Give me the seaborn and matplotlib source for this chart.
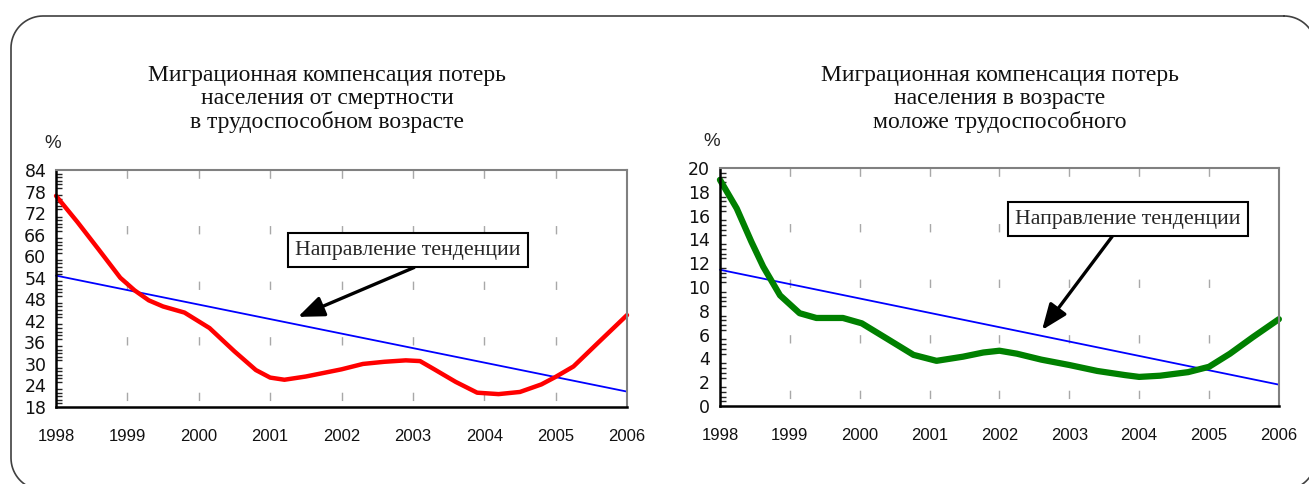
import numpy as np
import pandas as pd
import matplotlib
matplotlib.use("Agg")
import matplotlib.pyplot as plt
import seaborn as sns
from matplotlib.ticker import MultipleLocator
from matplotlib.lines import Line2D

sns.set_style("white")
plt.rcParams['font.family'] = ['Liberation Sans', 'DejaVu Sans']

years = list(range(1998, 2007))

# left chart: working age mortality losses
red_x = [1998.0, 1998.3, 1998.6, 1998.9, 1999.1, 1999.3, 1999.5, 1999.8, 2000.15,
         2000.5, 2000.8, 2001.0, 2001.2, 2001.5, 2002.0, 2002.3, 2002.6, 2002.9,
         2003.1, 2003.3, 2003.6, 2003.9, 2004.2, 2004.5, 2004.8, 2005.0, 2005.25,
         2005.6, 2006.0]
red_y = [76.8, 69.5, 61.8, 54.0, 50.5, 47.7, 46.0, 44.3, 40.0,
         33.5, 28.3, 26.2, 25.6, 26.5, 28.5, 30.0, 30.6, 31.0,
         30.8, 28.5, 25.0, 22.0, 21.6, 22.2, 24.3, 26.4, 29.3,
         36.0, 43.6]
trend_x = [1998, 2006]
trend_left = [54.6, 22.3]

# right chart: below working age
green_x = [1998.0, 1998.24, 1998.45, 1998.62, 1998.86, 1999.14, 1999.38, 1999.76,
           2000.03, 2000.38, 2000.77, 2001.1, 2001.48, 2001.77, 2002.0, 2002.25,
           2002.6, 2003.0, 2003.4, 2003.8, 2004.0, 2004.3, 2004.7, 2005.0, 2005.3,
           2005.63, 2006.0]
green_y = [19.0, 16.6, 13.8, 11.7, 9.3, 7.8, 7.4, 7.4,
           6.95, 5.7, 4.3, 3.8, 4.15, 4.5, 4.65, 4.4,
           3.9, 3.45, 2.95, 2.6, 2.45, 2.55, 2.85, 3.3, 4.4,
           5.8, 7.3]
trend_right = [11.45, 1.8]

title_left = "Миграционная компенсация потерь\nнаселения от смертности\nв трудоспособном возрасте"
title_right = "Миграционная компенсация потерь\nнаселения в возрасте\nмоложе трудоспособного"
note = "Направление тенденции"

df_red = pd.DataFrame({"year": red_x, "val": red_y})
df_green = pd.DataFrame({"year": green_x, "val": green_y})
df_tl = pd.DataFrame({"year": trend_x, "val": trend_left})
df_tr = pd.DataFrame({"year": trend_x, "val": trend_right})

W, H = 1309, 484
fig = plt.figure(figsize=(W / 100, H / 100), dpi=100)
ax1 = fig.add_axes([0.0428, 0.159, 0.4362, 0.4898])
ax2 = fig.add_axes([0.550, 0.161, 0.427, 0.492])


def style_axes(ax, ymin, ymax, ystep, minor):
    ax.set_xlim(1998, 2006)
    ax.set_ylim(ymin, ymax)
    ax.set_xticks(years)
    ax.set_yticks(np.arange(ymin, ymax + 0.1, ystep))
    ax.yaxis.set_minor_locator(MultipleLocator(minor))
    ax.tick_params(axis='both', which='major', direction='inout', length=10,
                   width=1.5, color='black', labelsize=12, labelcolor='#111111')
    ax.tick_params(axis='x', pad=11)
    ax.tick_params(axis='y', pad=2)
    ax.tick_params(axis='y', which='minor', direction='in', length=4, width=1,
                   left=True)
    for lab in ax.get_yticklabels():
        lab.set_family('DejaVu Sans')
        lab.set_fontsize(12.5)
    for s in ['left', 'bottom']:
        ax.spines[s].set_color('black')
        ax.spines[s].set_linewidth(1.8)
    for s in ['top', 'right']:
        ax.spines[s].set_color('#808080')
        ax.spines[s].set_linewidth(1.5)
    ax.vlines(years[1:-1], ymax, ymin, colors='#a8a8a8', linewidth=1,
              linestyles=(0, (6, 34)), zorder=0)
    ax.set_xlabel("")
    ax.set_ylabel("")


sns.lineplot(data=df_tl, x="year", y="val", ax=ax1, color='#0000ff', lw=1.3,
             estimator=None)
sns.lineplot(data=df_red, x="year", y="val", ax=ax1, color='#ff0000', lw=3.2,
             estimator=None, solid_joinstyle='round', solid_capstyle='round')
style_axes(ax1, 18, 84, 6, 1)

sns.lineplot(data=df_tr, x="year", y="val", ax=ax2, color='#0000ff', lw=1.3,
             estimator=None)
sns.lineplot(data=df_green, x="year", y="val", ax=ax2, color='#008000', lw=4.5,
             estimator=None, solid_joinstyle='round', solid_capstyle='round')
style_axes(ax2, 0, 20, 2, 0.4)

for ax in (ax1, ax2):
    for ln in ax.get_lines():
        ln.set_clip_on(False)

box = dict(boxstyle='square,pad=0.33', fc='white', ec='black', lw=1.5)
arrow = '-|>,head_length=1.0,head_width=0.4'
ax1.annotate(note, xy=(2001.39, 43.1), xytext=(2002.93, 61.7),
             ha='center', va='center', fontsize=15.7, family='Liberation Serif',
             bbox=box,
             arrowprops=dict(arrowstyle=arrow, lw=2.4, color='black',
                             shrinkA=0, shrinkB=0, relpos=(0.61, 0)))
ax2.annotate(note, xy=(2002.61, 6.39), xytext=(2003.84, 15.7),
             ha='center', va='center', fontsize=15.7, family='Liberation Serif',
             bbox=box,
             arrowprops=dict(arrowstyle=arrow, lw=2.4, color='black',
                             shrinkA=0, shrinkB=0, relpos=(0.456, 0)))

fig.text(327 / W, 1 - 99 / H, title_left, ha='center', va='center',
         fontsize=17, family='Liberation Serif', linespacing=1.1, color='#111111')
fig.text(1000 / W, 1 - 99 / H, title_right, ha='center', va='center',
         fontsize=17, family='Liberation Serif', linespacing=1.1, color='#111111')
fig.text(53 / W, 1 - 143 / H, "%", ha='center', va='center', fontsize=13.5)
fig.text(712 / W, 1 - 141 / H, "%", ha='center', va='center', fontsize=13.5)

# rounded frame around the whole picture, in pixels from top-left
fl, ft, fr, fb, rad = 11, 16, 1316, 490, 32
corners = [(fr - rad, ft + rad, -90, 0), (fr - rad, fb - rad, 0, 90),
           (fl + rad, fb - rad, 90, 180), (fl + rad, ft + rad, 180, 270)]
px, py = [], []
for cx, cy, a0, a1 in corners:
    t = np.radians(np.linspace(a0, a1, 20))
    px.extend(cx + rad * np.cos(t))
    py.extend(cy + rad * np.sin(t))
px.append(px[0])
py.append(py[0])
frame = Line2D(np.array(px) / W, 1 - np.array(py) / H, transform=fig.transFigure,
               color='#404040', lw=1.2, clip_on=False)
fig.add_artist(frame)

fig.savefig("out.png", dpi=100)
